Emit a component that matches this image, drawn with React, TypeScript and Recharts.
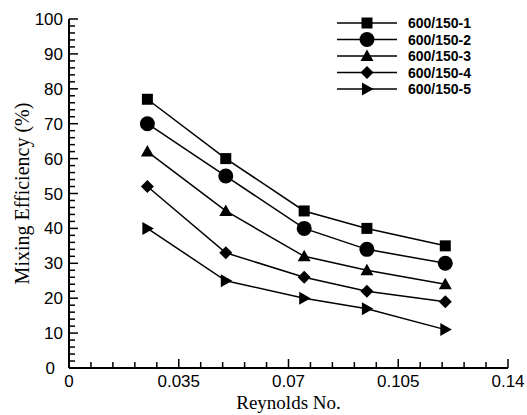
import React from 'react';
import { LineChart, Line, XAxis, YAxis } from 'recharts';

// Reynolds number positions
const reynolds = [0.025, 0.05, 0.075, 0.095, 0.12];

// mixing efficiency (%) per configuration
const eff1 = [77, 60, 45, 40, 35];
const eff2 = [70, 55, 40, 34, 30];
const eff3 = [62, 45, 32, 28, 24];
const eff4 = [52, 33, 26, 22, 19];
const eff5 = [40, 25, 20, 17, 11];

const seriesNames = ['600/150-1', '600/150-2', '600/150-3', '600/150-4', '600/150-5'];
const seriesShapes = ['square', 'circle', 'triangle', 'diamond', 'right'];

const xTicks = [
  0, 0.007, 0.014, 0.021, 0.028, 0.035, 0.042, 0.049, 0.056, 0.063, 0.07,
  0.077, 0.084, 0.091, 0.098, 0.105, 0.112, 0.119, 0.126, 0.133, 0.14,
];
const xTickLabels = ['0', '0.035', '0.07', '0.105', '0.14'];

const yTicks = [
  0, 2, 4, 6, 8, 10, 12, 14, 16, 18, 20, 22, 24, 26, 28, 30, 32, 34, 36, 38, 40,
  42, 44, 46, 48, 50, 52, 54, 56, 58, 60, 62, 64, 66, 68, 70, 72, 74, 76, 78, 80,
  82, 84, 86, 88, 90, 92, 94, 96, 98, 100,
];

const data = reynolds.map((re, i) => ({
  re,
  s1: eff1[i],
  s2: eff2[i],
  s3: eff3[i],
  s4: eff4[i],
  s5: eff5[i],
}));

const W = 527;
const H = 415;
const LEFT = 69; // y axis position
const BOTTOM = 368; // x axis position
const SANS = "'Liberation Sans', Arial, sans-serif";
const SERIF = "'Liberation Serif', 'Times New Roman', serif";

const Marker = ({ shape, cx, cy }: { shape: string; cx: number; cy: number }) => {
  if (shape === 'square') return <rect x={cx - 5.5} y={cy - 5.5} width={11} height={11} fill="#000" />;
  if (shape === 'circle') return <circle cx={cx} cy={cy} r={7.5} fill="#000" />;
  if (shape === 'triangle')
    return <polygon points={`${cx},${cy - 6.5} ${cx + 6.5},${cy + 5} ${cx - 6.5},${cy + 5}`} fill="#000" />;
  if (shape === 'diamond')
    return <polygon points={`${cx},${cy - 6.5} ${cx + 6.5},${cy} ${cx},${cy + 6.5} ${cx - 6.5},${cy}`} fill="#000" />;
  return <polygon points={`${cx - 5},${cy - 6.5} ${cx + 6.5},${cy} ${cx - 5},${cy + 6.5}`} fill="#000" />;
};

// ticks point inward, majors every 5th
const renderXTick = (props: any) => {
  const { x, index } = props;
  const major = index % 5 === 0;
  return (
    <g key={`xt-${index}`}>
      <line x1={x} y1={BOTTOM} x2={x} y2={BOTTOM - (major ? 9 : 6)} stroke="#000" strokeWidth={1.5} />
      {major && (
        <text x={x} y={BOTTOM + 19} textAnchor="middle" fontFamily={SANS} fontSize={17} fill="#000">
          {xTickLabels[index / 5]}
        </text>
      )}
    </g>
  );
};

const renderYTick = (props: any) => {
  const { y, payload, index } = props;
  const v = payload.value;
  const major = v % 10 === 0;
  return (
    <g key={`yt-${index}`}>
      <line x1={LEFT} y1={y} x2={LEFT + (major ? 9 : 6)} y2={y} stroke="#000" strokeWidth={1.5} />
      {major && (
        <text x={v === 0 ? LEFT - 14 : LEFT - 6} y={y + 6} textAnchor="end" fontFamily={SANS} fontSize={17} fill="#000">
          {v}
        </text>
      )}
    </g>
  );
};

const LegendBox = () => (
  <svg width={180} height={90} style={{ display: 'block' }}>
    {seriesNames.map((name, i) => {
      const cy = 9 + i * 16.5;
      return (
        <g key={name}>
          <line x1={1} y1={cy} x2={61} y2={cy} stroke="#000" strokeWidth={1.5} />
          <Marker shape={seriesShapes[i]} cx={31} cy={cy} />
          <text x={72} y={cy + 5} fontFamily={SANS} fontWeight="bold" fontSize={14} fill="#000">
            {name}
          </text>
        </g>
      );
    })}
  </svg>
);

export default function App() {
  const keys = ['s1', 's2', 's3', 's4', 's5'];
  return (
    <div style={{ position: 'fixed', left: 0, top: 0, width: W, height: H, background: '#fff' }}>
      <LineChart width={W} height={H} data={data} margin={{ top: 19, right: 19, bottom: 0, left: 0 }}>
        <XAxis
          dataKey="re"
          type="number"
          domain={[0, 0.14]}
          ticks={xTicks}
          interval={0}
          height={47}
          tickLine={false}
          tick={renderXTick}
          axisLine={{ stroke: '#000', strokeWidth: 2 }}
          label={({ viewBox }: any) => (
            <text
              x={viewBox.x + viewBox.width / 2}
              y={viewBox.y + 41}
              textAnchor="middle"
              fontFamily={SERIF}
              fontSize={19}
              fill="#000"
            >
              Reynolds No.
            </text>
          )}
        />
        <YAxis
          type="number"
          domain={[0, 100]}
          ticks={yTicks}
          interval={0}
          width={LEFT}
          tickLine={false}
          tick={renderYTick}
          axisLine={{ stroke: '#000', strokeWidth: 2 }}
          label={({ viewBox }: any) => {
            const cx = 22;
            const cy = viewBox.y + viewBox.height / 2;
            return (
              <text
                x={cx}
                y={cy}
                transform={`rotate(-90 ${cx} ${cy})`}
                textAnchor="middle"
                dominantBaseline="central"
                fontFamily={SERIF}
                fontSize={20}
                fill="#000"
              >
                Mixing Efficiency (%)
              </text>
            );
          }}
        />
        {keys.map((k, i) => (
          <Line
            key={k}
            dataKey={k}
            name={seriesNames[i]}
            stroke="#000"
            strokeWidth={1.5}
            isAnimationActive={false}
            dot={(p: any) => <Marker key={`${k}-${p.index}`} shape={seriesShapes[i]} cx={p.cx} cy={p.cy} />}
            activeDot={false}
          />
        ))}
      </LineChart>
      <div style={{ position: 'absolute', left: 336, top: 14 }}>
        <LegendBox />
      </div>
    </div>
  );
}
